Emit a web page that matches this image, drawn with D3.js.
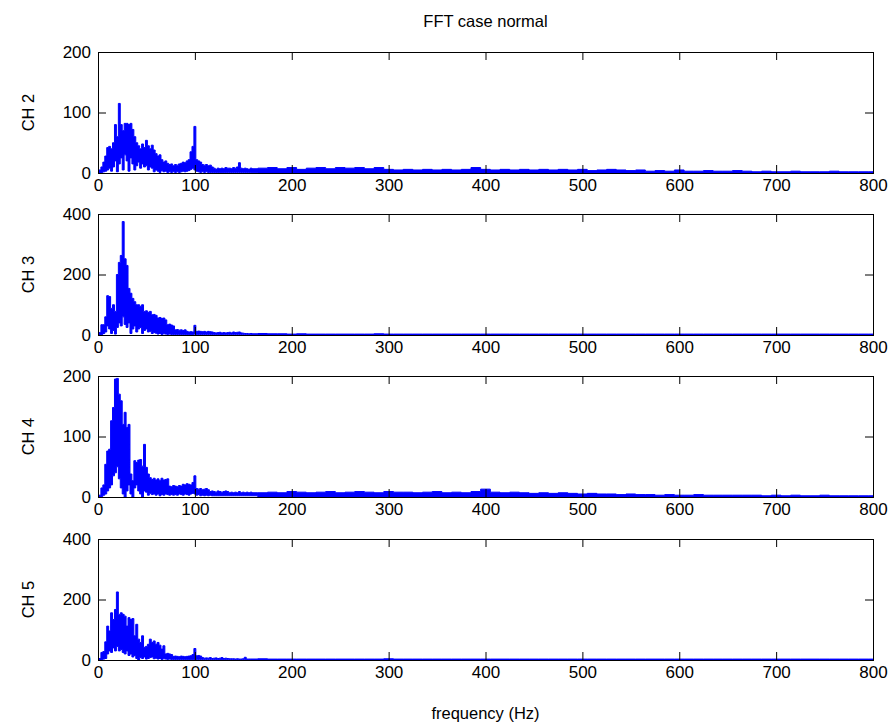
<!DOCTYPE html>
<html>
<head>
<meta charset="utf-8">
<script src="https://cdn.jsdelivr.net/npm/d3@7"></script>
<style>
body { margin: 0; background: #fff; }
text { font-family: "Liberation Sans", Arial, sans-serif; font-size: 16.5px; fill: #000; }
</style>
</head>
<body>
<div id="chart"></div>
<script>
// frequency grid: fine steps in the low band, coarse steps for the flat tail
const freqHead = d3.range(0, 161, 2);
const freqTail = d3.range(170, 801, 10);

const xTicks = [0, 100, 200, 300, 400, 500, 600, 700, 800];
const channelNames = ["CH 2", "CH 3", "CH 4", "CH 5"];
const channelMax = [200, 400, 200, 400];
const channelTicks = [[0, 100, 200], [0, 200, 400], [0, 100, 200], [0, 200, 400]];

// upper / lower edge of the dense spectrum band, 0..160 Hz every 2 Hz
const ch2Upper = [
    2, 5, 10, 18, 28, 42, 44, 40, 50, 80,
    60, 115, 80, 70, 82, 82, 80, 82, 72, 60,
    50, 45, 40, 48, 42, 54, 45, 40, 46, 38,
    32, 28, 30, 22, 18, 20, 16, 14, 15, 12,
    14, 13, 15, 16, 18, 17, 20, 22, 35, 44,
    77, 22, 20, 18, 14, 13, 14, 12, 13, 10,
    8, 6, 8, 7, 8, 7, 9, 8, 8, 7,
    9, 8, 10, 17, 8, 7, 8, 7, 6, 8,
    7];
const ch2Lower = [
    0, 0, 1, 2, 3, 5, 8, 3, 10, 20,
    2, 15, 25, 5, 30, 20, 3, 25, 15, 5,
    12, 18, 8, 15, 10, 12, 5, 10, 8, 2,
    5, 3, 1, 4, 2, 3, 1, 2, 1, 2,
    1, 2, 1, 2, 3, 2, 3, 4, 6, 8,
    5, 3, 2, 1, 2, 1, 2, 1, 1, 1,
    1, 1, 1, 1, 1, 1, 1, 1, 1, 1,
    1, 1, 1, 1, 1, 1, 1, 1, 1, 1,
    1];
const ch3Upper = [
    2, 8, 34, 34, 60, 130, 127, 88, 100, 78,
    200, 240, 263, 375, 252, 230, 154, 138, 121, 110,
    100, 100, 95, 100, 78, 80, 75, 78, 67, 68,
    65, 56, 58, 55, 56, 50, 34, 36, 33, 30,
    17, 18, 16, 17, 15, 17, 12, 10, 11, 10,
    32, 12, 13, 12, 11, 12, 10, 12, 11, 10,
    8, 7, 8, 9, 7, 8, 7, 8, 9, 7,
    10, 8, 9, 10, 7, 6, 5, 5, 4, 5,
    4];
const ch3Lower = [
    0, 0, 2, 5, 10, 30, 20, 5, 15, 3,
    25, 40, 30, 60, 35, 25, 40, 5, 20, 30,
    10, 20, 25, 5, 15, 20, 10, 12, 5, 8,
    6, 3, 5, 2, 4, 3, 2, 3, 2, 2,
    2, 2, 2, 2, 2, 2, 2, 2, 2, 2,
    3, 2, 2, 2, 2, 2, 2, 2, 2, 2,
    2, 2, 2, 2, 2, 2, 2, 2, 2, 2,
    2, 2, 2, 2, 2, 2, 2, 2, 2, 2,
    2];
const ch4Upper = [
    1, 3, 15, 20, 54, 76, 79, 126, 148, 195,
    196, 170, 159, 120, 140, 115, 120, 38, 27, 60,
    57, 61, 62, 51, 87, 49, 38, 32, 29, 31,
    28, 30, 27, 31, 28, 29, 30, 18, 17, 19,
    18, 17, 19, 18, 21, 20, 22, 21, 20, 24,
    35, 14, 13, 14, 12, 13, 14, 12, 9, 10,
    9, 8, 10, 9, 8, 9, 10, 9, 7, 8,
    7, 8, 7, 9, 7, 8, 7, 8, 7, 8,
    7];
const ch4Lower = [
    0, 0, 1, 3, 5, 10, 15, 20, 35, 40,
    50, 30, 15, 5, 0, 10, 20, 5, 0, 15,
    20, 10, 5, 0, 10, 8, 3, 6, 4, 5,
    3, 5, 2, 4, 3, 5, 4, 3, 4, 3,
    4, 3, 5, 4, 3, 5, 4, 3, 5, 6,
    5, 3, 4, 2, 3, 2, 3, 2, 3, 2,
    2, 2, 2, 2, 2, 2, 2, 2, 2, 2,
    2, 2, 2, 2, 2, 2, 2, 2, 2, 2,
    2];
const ch5Upper = [
    2, 5, 25, 28, 60, 112, 96, 156, 134, 167,
    225, 150, 156, 151, 145, 112, 140, 134, 137, 80,
    118, 69, 58, 80, 42, 45, 52, 69, 58, 63,
    52, 58, 49, 36, 47, 20, 22, 20, 18, 12,
    13, 12, 11, 13, 12, 11, 12, 13, 14, 18,
    38, 14, 15, 13, 8, 6, 7, 6, 8, 5,
    6, 7, 5, 6, 8, 5, 6, 5, 4, 4,
    4, 3, 4, 3, 3, 4, 9, 3, 3, 3,
    3];
const ch5Lower = [
    0, 0, 1, 3, 5, 20, 30, 25, 40, 30,
    45, 30, 35, 25, 20, 30, 15, 20, 10, 15,
    5, 0, 8, 5, 10, 3, 5, 8, 10, 4,
    6, 3, 5, 2, 4, 3, 2, 3, 2, 2,
    2, 2, 2, 2, 2, 2, 2, 2, 2, 2,
    2, 2, 2, 2, 2, 2, 2, 2, 2, 2,
    2, 2, 2, 2, 2, 2, 2, 2, 2, 2,
    2, 2, 2, 2, 2, 2, 2, 2, 2, 2,
    2];

// noise floor, 170..800 Hz every 10 Hz
const ch2Tail = [
    8, 9, 7, 9, 6, 8, 9, 7, 9, 8,
    9, 7, 9, 6, 5, 6, 5, 6, 5, 6,
    5, 6, 9, 6, 5, 6, 5, 6, 5, 6,
    5, 6, 5, 6, 4, 5, 6, 5, 4, 5,
    3, 4, 3, 5, 3, 3, 4, 3, 3, 4,
    3, 2, 3, 2, 2, 3, 2, 2, 2, 3,
    2, 2, 2, 2];
const ch3Tail = [
    5, 4, 4, 3, 4, 3, 3, 3, 3, 3,
    3, 3, 4, 3, 3, 3, 3, 3, 3, 3,
    3, 3, 3, 3, 3, 3, 3, 3, 3, 3,
    3, 3, 3, 3, 3, 3, 3, 3, 3, 3,
    3, 3, 3, 3, 3, 3, 3, 3, 3, 3,
    3, 3, 3, 3, 3, 3, 3, 3, 3, 3,
    3, 3, 3, 3];
const ch4Tail = [
    7, 8, 7, 9, 8, 7, 8, 9, 7, 8,
    9, 8, 7, 9, 8, 8, 7, 8, 9, 7,
    8, 7, 9, 13, 8, 7, 8, 7, 6, 7,
    6, 7, 6, 5, 6, 5, 5, 4, 5, 4,
    4, 3, 4, 3, 3, 4, 3, 3, 3, 3,
    3, 3, 2, 3, 2, 3, 2, 2, 3, 2,
    2, 2, 2, 2];
const ch5Tail = [
    4, 3, 3, 3, 3, 3, 3, 3, 3, 3,
    3, 3, 3, 4, 3, 3, 3, 3, 3, 3,
    3, 3, 3, 3, 3, 3, 3, 3, 3, 3,
    3, 3, 3, 3, 3, 3, 3, 3, 3, 3,
    3, 3, 3, 3, 3, 3, 3, 3, 3, 3,
    3, 3, 3, 3, 3, 3, 3, 3, 3, 3,
    3, 3, 3, 3];

const uppers = [ch2Upper, ch3Upper, ch4Upper, ch5Upper];
const lowers = [ch2Lower, ch3Lower, ch4Lower, ch5Lower];
const tails = [ch2Tail, ch3Tail, ch4Tail, ch5Tail];

const width = 893, height = 724;
const left = 98, right = 873, panelH = 121;
const panelTops = [52, 214, 376, 539];

const svg = d3.select("#chart").append("svg")
    .attr("width", width)
    .attr("height", height);

const x = d3.scaleLinear().domain([0, 800]).range([left, right]);

svg.append("text")
    .attr("x", (left + right) / 2)
    .attr("y", 27)
    .attr("text-anchor", "middle")
    .text("FFT case normal");

svg.append("text")
    .attr("x", (left + right) / 2)
    .attr("y", 719)
    .attr("text-anchor", "middle")
    .text("frequency (Hz)");

channelNames.forEach((name, i) => {
    const top = panelTops[i], bottom = top + panelH;
    const y = d3.scaleLinear().domain([0, channelMax[i]]).range([bottom, top]);

    const freqs = freqHead.concat(freqTail);
    const hi = uppers[i].concat(tails[i]);
    const lo = lowers[i].concat(freqTail.map(() => 0));
    const rows = freqs.map((f, k) => ({f: f, hi: hi[k], lo: lo[k]}));

    const g = svg.append("g");

    g.append("clipPath")
        .attr("id", "clip" + i)
        .append("rect")
        .attr("x", left).attr("y", top)
        .attr("width", right - left).attr("height", panelH);

    // stepped band gives the blocky look of a dense FFT trace
    const band = d3.area()
        .curve(d3.curveStep)
        .x(d => x(d.f))
        .y0(d => y(d.lo))
        .y1(d => y(d.hi));

    g.append("path")
        .datum(rows)
        .attr("clip-path", "url(#clip" + i + ")")
        .attr("d", band)
        .attr("fill", "#0000ff")
        .attr("stroke", "#0000ff")
        .attr("stroke-width", 1);

    // MATLAB style box with inward ticks on all sides
    g.append("g")
        .attr("transform", "translate(0," + bottom + ")")
        .call(d3.axisBottom(x).tickValues(xTicks).tickSize(-8).tickPadding(6).tickFormat(d3.format("d")))
        .call(a => a.select(".domain").remove());
    g.append("g")
        .attr("transform", "translate(0," + top + ")")
        .call(d3.axisTop(x).tickValues(xTicks).tickSize(-8).tickFormat(""))
        .call(a => a.select(".domain").remove());
    g.append("g")
        .attr("transform", "translate(" + left + ",0)")
        .call(d3.axisLeft(y).tickValues(channelTicks[i]).tickSize(-8).tickPadding(7).tickFormat(d3.format("d")))
        .call(a => a.select(".domain").remove());
    g.append("g")
        .attr("transform", "translate(" + right + ",0)")
        .call(d3.axisRight(y).tickValues(channelTicks[i]).tickSize(-8).tickFormat(""))
        .call(a => a.select(".domain").remove());

    g.append("rect")
        .attr("x", left + 0.5).attr("y", top + 0.5)
        .attr("width", right - left).attr("height", panelH)
        .attr("fill", "none")
        .attr("stroke", "#000")
        .attr("stroke-width", 1);

    g.append("text")
        .attr("transform", "translate(34," + (top + panelH / 2) + ") rotate(-90)")
        .attr("text-anchor", "middle")
        .text(name);
});

svg.selectAll(".tick line").attr("stroke", "#000");
svg.selectAll(".tick text").attr("fill", "#000").style("font-size", "17px").style("font-family", "'Liberation Sans', Arial, sans-serif");
</script>
</body>
</html>
